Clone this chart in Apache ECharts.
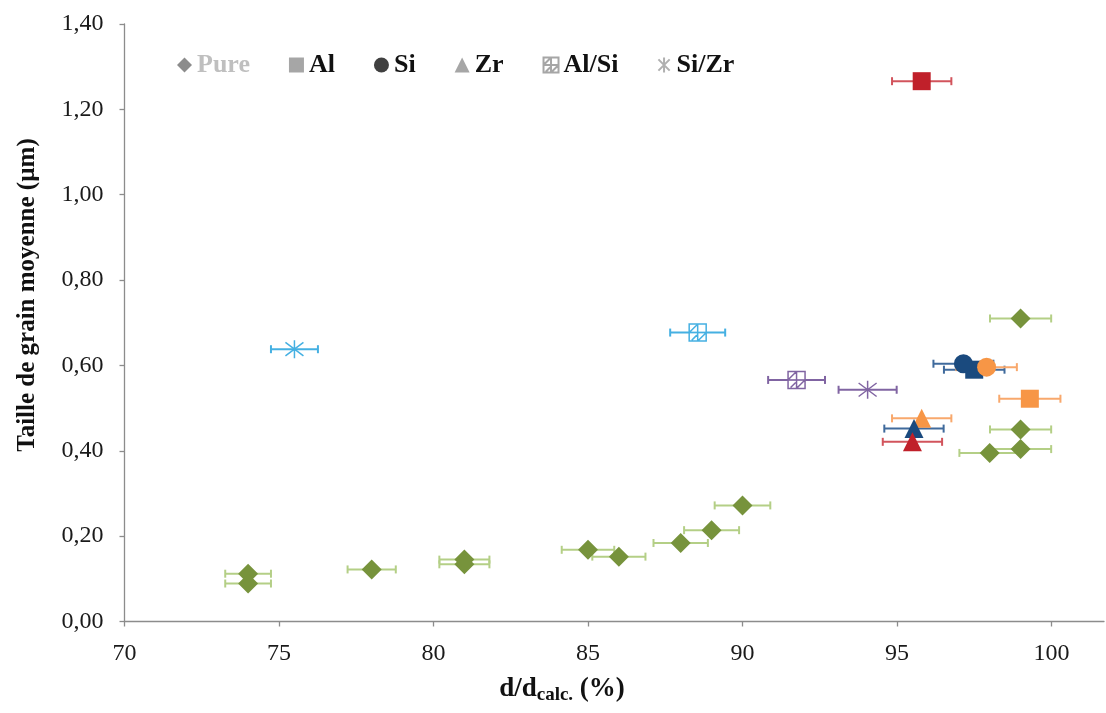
<!DOCTYPE html>
<html>
<head>
<meta charset="utf-8">
<script src="https://cdn.jsdelivr.net/npm/echarts@6/dist/echarts.min.js"></script>
<style>
html,body{margin:0;padding:0;background:#fff;}
#chart{width:1106px;height:713px;}
</style>
</head>
<body>
<div id="chart"></div>
<script>
// ---- data ----
const xTicks = [70, 75, 80, 85, 90, 95, 100];
const yTicks = [0, 0.2, 0.4, 0.6, 0.8, 1.0, 1.2, 1.4];

const pureX   = [74, 74, 78, 81, 81, 85, 86, 88, 89, 90, 99, 99, 98, 99];
const pureY   = [0.112, 0.089, 0.122, 0.145, 0.134, 0.168, 0.152, 0.184, 0.214, 0.272, 0.710, 0.450, 0.395, 0.404];
const pureErr = [0.74, 0.74, 0.78, 0.81, 0.81, 0.85, 0.86, 0.88, 0.89, 0.90, 0.99, 0.99, 0.98, 0.99];
const pureCol = ['green','green','green','green','green','green','green','green','green','green','green','green','green','green'];

const alX   = [95.8, 99.3, 97.5];
const alY   = [1.266, 0.522, 0.590];
const alErr = [0.96, 0.99, 0.98];
const alCol = ['red', 'orange', 'navy'];

const siX   = [97.15, 97.9];
const siY   = [0.604, 0.596];
const siErr = [0.97, 0.98];
const siCol = ['navy', 'orange'];

const zrX   = [95.8, 95.55, 95.5];
const zrY   = [0.476, 0.452, 0.421];
const zrErr = [0.96, 0.96, 0.96];
const zrCol = ['orange', 'navy', 'red'];

const alsiX   = [88.55, 91.75];
const alsiY   = [0.677, 0.566];
const alsiErr = [0.89, 0.92];
const alsiCol = ['cyan', 'purple'];

const sizrX   = [75.5, 94.05];
const sizrY   = [0.638, 0.543];
const sizrErr = [0.76, 0.94];
const sizrCol = ['cyan', 'purple'];

const legendNames = ['Pure', 'Al', 'Si', 'Zr', 'Al/Si', 'Si/Zr'];

// ---- styles ----
const palette = {
  green: '#77933c', red: '#c0202a', orange: '#f79646',
  navy: '#1a4a7e', cyan: '#45b0e2', purple: '#8064a2'
};
const errPalette = {
  green: '#b4cf86', red: '#d2545c', orange: '#f8a86c',
  navy: '#3f6a9c', cyan: '#45b0e2', purple: '#8064a2'
};
const serif = '"Liberation Serif", "Times New Roman", serif';

const gridSym = 'path://M0,0L20,0L20,20L0,20Z M10,0L10,20 M0,10L20,10 M1,9L9,1 M11,19L19,11 M3,19L9,13';
const starSym = 'path://M10,0L10,20 M2.5,2.5L17.5,17.5 M17.5,2.5L2.5,17.5';

const groups = [
  {name:'Pure', x:pureX, y:pureY, e:pureErr, c:pureCol, symbol:'diamond', size:20, legendColor:'#8c8c8c', kind:'fill'},
  {name:'Al', x:alX, y:alY, e:alErr, c:alCol, symbol:'rect', size:18, legendColor:'#a6a6a6', kind:'fill'},
  {name:'Si', x:siX, y:siY, e:siErr, c:siCol, symbol:'circle', size:19, legendColor:'#404040', kind:'fill'},
  {name:'Zr', x:zrX, y:zrY, e:zrErr, c:zrCol, symbol:'triangle', size:19, legendColor:'#a6a6a6', kind:'fill'},
  {name:'Al/Si', x:alsiX, y:alsiY, e:alsiErr, c:alsiCol, symbol:gridSym, size:17, legendColor:'#a6a6a6', kind:'grid'},
  {name:'Si/Zr', x:sizrX, y:sizrY, e:sizrErr, c:sizrCol, symbol:starSym, size:18, legendColor:'#b0b0b0', kind:'star'}
];

const errData = [];
const errColors = [];
groups.forEach(g => {
  g.x.forEach((xv, i) => {
    errData.push([xv, g.y[i], g.e[i]]);
    errColors.push(errPalette[g.c[i]]);
  });
});

const series = [{
  name: 'errorbars',
  type: 'custom',
  z: 1,
  silent: true,
  data: errData,
  renderItem: function (params, api) {
    const x = api.value(0), y = api.value(1), e = api.value(2);
    const p1 = api.coord([x - e, y]);
    const p2 = api.coord([x + e, y]);
    const col = errColors[params.dataIndex];
    const st = {stroke: col, lineWidth: 2};
    return {
      type: 'group',
      children: [
        {type:'line', shape:{x1:p1[0], y1:p1[1], x2:p2[0], y2:p2[1]}, style:st},
        {type:'line', shape:{x1:p1[0], y1:p1[1]-4, x2:p1[0], y2:p1[1]+4}, style:st},
        {type:'line', shape:{x1:p2[0], y1:p2[1]-4, x2:p2[0], y2:p2[1]+4}, style:st}
      ]
    };
  }
}];

groups.forEach(g => {
  let seriesStyle;
  if (g.kind === 'grid') seriesStyle = {color:'#ffffff', borderColor:g.legendColor, borderWidth:1.5, opacity:1};
  else if (g.kind === 'star') seriesStyle = {color:g.legendColor, borderColor:g.legendColor, borderWidth:1.5, opacity:1};
  else seriesStyle = {color:g.legendColor, opacity:1};
  series.push({
    name: g.name,
    type: 'scatter',
    z: 3,
    symbol: g.symbol,
    symbolSize: g.size,
    itemStyle: seriesStyle,
    data: g.x.map((xv, i) => {
      const col = palette[g.c[i]];
      let st;
      if (g.kind === 'grid') st = {color:'rgba(255,255,255,0.7)', borderColor:col, borderWidth:1.5};
      else if (g.kind === 'star') st = {color:col, borderColor:col, borderWidth:1.5};
      else st = {color:col};
      return {value:[xv, g.y[i]], itemStyle:st};
    })
  });
});

const chart = echarts.init(document.getElementById('chart'), null, {renderer:'canvas'});
chart.setOption({
  animation: false,
  backgroundColor: '#ffffff',
  grid: {left:124.5, right:2, top:24, bottom:91.5, containLabel:false},
  xAxis: {
    type: 'value',
    min: 70,
    max: 101.7,
    axisLine: {show:true, lineStyle:{color:'#8c8c8c', width:1.3}},
    axisTick: {show:true, length:5, lineStyle:{color:'#8c8c8c', width:1.3}, customValues: xTicks},
    axisLabel: {
      customValues: xTicks,
      margin: 20,
      fontFamily: serif, fontSize: 24, color: '#1a1a1a',
      formatter: v => String(v)
    },
    splitLine: {show:false}
  },
  yAxis: {
    type: 'value',
    min: 0,
    max: 1.4,
    interval: 0.2,
    axisLine: {show:true, lineStyle:{color:'#8c8c8c', width:1.3}},
    axisTick: {show:true, length:5, lineStyle:{color:'#8c8c8c', width:1.3}},
    axisLabel: {
      margin: 21,
      fontFamily: serif, fontSize: 24, color: '#1a1a1a',
      formatter: v => v.toFixed(2).replace('.', ',')
    },
    splitLine: {show:false}
  },
  legend: {
    data: legendNames.map(n => n === 'Pure'
      ? {name:n, textStyle:{color:'#bfbfbf'}}
      : {name:n}),
    left: 172,
    top: 47,
    orient: 'horizontal',
    itemWidth: 15,
    itemHeight: 15,
    itemGap: 39,
    textStyle: {fontFamily: serif, fontSize: 26, fontWeight: 'bold', color: '#111'},
    selectedMode: false
  },
  graphic: [
    {
      type: 'text',
      x: 28, y: 295,
      rotation: Math.PI / 2,
      style: {
        text: 'Taille de grain moyenne (µm)',
        font: 'bold 25px ' + serif,
        fill: '#111',
        align: 'center',
        verticalAlign: 'middle'
      }
    },
    {
      type: 'text',
      x: 562, y: 689,
      style: {
        text: '{a|d/d}{b|calc.}{a| (%)}',
        align: 'center',
        verticalAlign: 'middle',
        rich: {
          a: {font: 'bold 27px ' + serif, fill:'#111', lineHeight: 32},
          b: {font: 'bold 19px ' + serif, fill:'#111', lineHeight: 18, verticalAlign: 'bottom'}
        }
      }
    }
  ],
  series: series
});
</script>
</body>
</html>
